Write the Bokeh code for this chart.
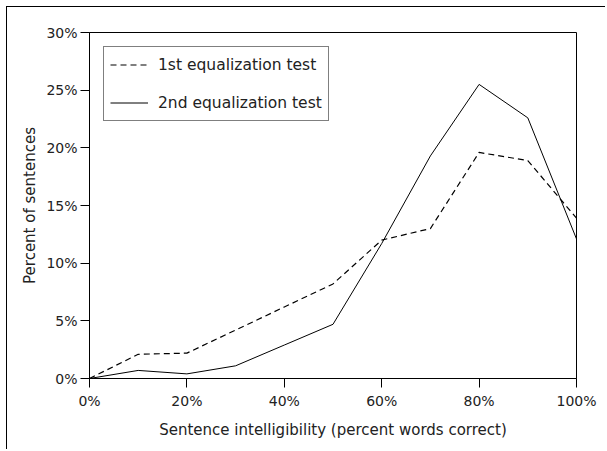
from bokeh.plotting import figure
from bokeh.models import Legend, LegendItem, PrintfTickFormatter, FixedTicker, Range1d
from bokeh.embed import file_html
from bokeh.resources import INLINE

intelligibility = [0, 10, 20, 30, 40, 50, 60, 70, 80, 90, 100]
test1 = [0, 2.1, 2.2, 4.2, 6.2, 8.2, 12.0, 13.0, 19.6, 18.9, 13.9]
test2 = [0, 0.7, 0.4, 1.1, 2.9, 4.7, 11.7, 19.3, 25.5, 22.6, 12.1]
series_names = ["1st equalization test", "2nd equalization test"]
x_ticks = [0, 20, 40, 60, 80, 100]
y_ticks = [0, 5, 10, 15, 20, 25, 30]

FONT = "DejaVu Sans"

p = figure(width=599, height=443, output_backend="svg", toolbar_location=None,
           x_range=Range1d(0, 100), y_range=Range1d(0, 30),
           min_border_left=82, min_border_top=25, min_border_right=30, min_border_bottom=72)
p.styles = {"margin-left": "6px", "margin-top": "6px",
            "border-left": "1px solid black", "border-top": "1px solid black"}
p.grid.visible = False
p.outline_line_color = "black"
p.outline_line_width = 1

r1 = p.line(intelligibility, test1, line_color="black", line_width=1.2, line_dash="6 4")
r2 = p.line(intelligibility, test2, line_color="black", line_width=1)

for ax in (p.xaxis[0], p.yaxis[0]):
    ax.formatter = PrintfTickFormatter(format="%d%%")
    ax.axis_line_color = "black"
    ax.major_tick_line_color = "black"
    ax.minor_tick_line_color = None
    ax.major_tick_in = 0
    ax.major_tick_out = 9
    ax.major_label_text_font = FONT
    ax.major_label_text_font_size = "14px"
    ax.major_label_text_color = "#222222"
    ax.axis_label_text_font = FONT
    ax.axis_label_text_font_size = "15px"
    ax.axis_label_text_font_style = "normal"
    ax.axis_label_text_color = "#222222"

p.xaxis.ticker = FixedTicker(ticks=x_ticks)
p.yaxis.ticker = FixedTicker(ticks=y_ticks)
p.xaxis.axis_label = "Sentence intelligibility (percent words correct)"
p.yaxis.axis_label = "Percent of sentences"
p.xaxis.major_label_standoff = 5
p.yaxis.major_label_standoff = 3
p.xaxis.axis_label_standoff = 9
p.yaxis.axis_label_standoff = 4

legend = Legend(items=[LegendItem(label=series_names[0], renderers=[r1]),
                       LegendItem(label=series_names[1], renderers=[r2])],
                location="top_left", margin=14, padding=6, spacing=15,
                glyph_width=38, glyph_height=23, label_height=23, label_standoff=10,
                label_text_font=FONT, label_text_font_size="15.5px", label_text_color="#222222",
                border_line_color="black", border_line_width=1, background_fill_alpha=1)
p.add_layout(legend)

open("out.html", "w").write(file_html(p, INLINE))
